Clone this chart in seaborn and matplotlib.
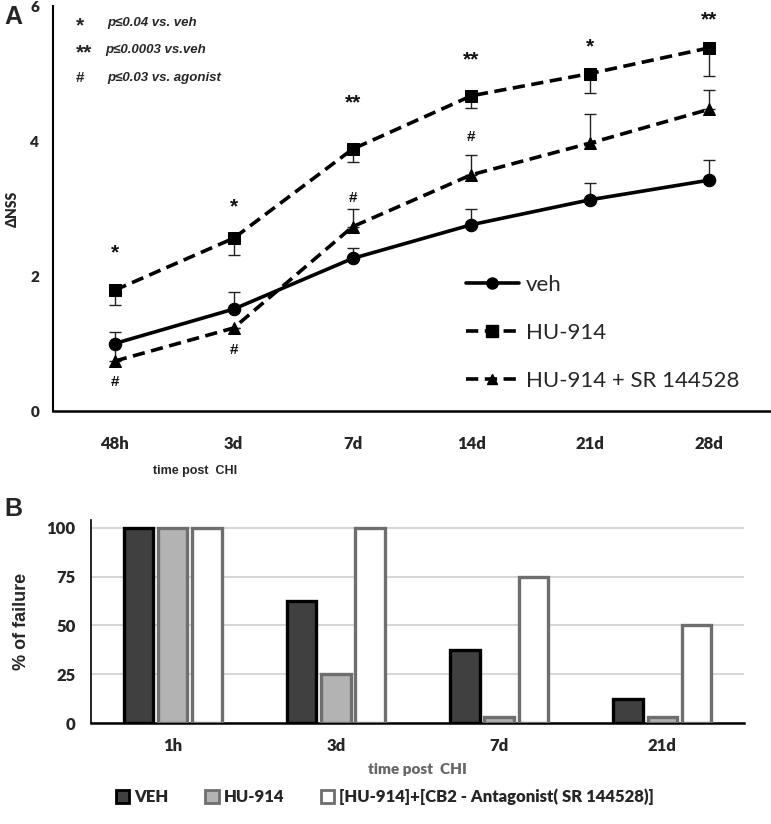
import numpy as np
import pandas as pd
import matplotlib
matplotlib.use("Agg")
import matplotlib.pyplot as plt
from matplotlib.lines import Line2D
from matplotlib.patches import Patch
import seaborn as sns

# ---------------- data: panel A ----------------
time_a = ["48h", "3d", "7d", "14d", "21d", "28d"]
veh = [1.0, 1.51, 2.26, 2.76, 3.13, 3.42]
veh_err = [0.17, 0.26, 0.15, 0.23, 0.25, 0.30]
hu914 = [1.79, 2.56, 3.88, 4.67, 5.0, 5.38]
hu914_err = [0.22, 0.25, 0.19, 0.18, 0.29, 0.42]
hu_sr = [0.74, 1.23, 2.73, 3.5, 3.97, 4.47]
hu_sr_err = [0.25, 0.0, 0.26, 0.29, 0.43, 0.29]
series_names = ["veh", "HU-914", "HU-914 + SR 144528"]

# significance marks: (category, y, text)
sig_cat = ["48h", "3d", "7d", "14d", "21d", "28d", "48h", "3d", "7d", "14d"]
sig_y = [2.34, 3.02, 4.56, 5.2, 5.4, 5.8, 0.43, 0.9, 3.15, 4.06]
sig_txt = ["*", "*", "**", "**", "*", "**", "#", "#", "#", "#"]

# ---------------- data: panel B ----------------
time_b = ["1h", "3d", "7d", "21d"]
groups_b = ["VEH", "HU-914", "[HU-914]+[CB2 - Antagonist( SR 144528)]"]
fail_veh = [100, 62.5, 37.5, 12.5]
fail_hu = [100, 25, 3, 3]
fail_sr = [100, 100, 75, 50]

sns.set_style("white")
plt.rcParams["font.family"] = ["Lato", "DejaVu Sans"]
NARROW = ["Lato", "DejaVu Sans"]
ARIAL = ["Liberation Sans", "DejaVu Sans"]

fig = plt.figure(figsize=(7.71, 8.24), dpi=100)

# ================= Panel A =================
axA = fig.add_axes([53 / 771, 1 - 411 / 824, 1 - 53 / 771, (411 - 6) / 824])
dash = (0, (3.4, 1.8))
styles = [("-", "o", 9), (dash, "s", 9), (dash, "^", 8)]
vals = [veh, hu914, hu_sr]
errs = [veh_err, hu914_err, hu_sr_err]
err_dir = ["up", "down", "up"]

for name, v, e, d, (ls, mk, ms) in zip(series_names, vals, errs, err_dir, styles):
    e = np.array(e)
    z = np.zeros_like(e)
    yerr = [z, e] if d == "up" else [e, z]
    axA.errorbar(time_a, v, yerr=yerr, fmt="none", ecolor="#222222",
                 elinewidth=1.0, capsize=4, capthick=1.0, zorder=2)
    sns.lineplot(x=time_a, y=v, ax=axA, color="black", linestyle=ls, lw=2.6,
                 marker=mk, markersize=ms, markeredgecolor="black",
                 sort=False, zorder=3, legend=False)

for c, y, t in zip(sig_cat, sig_y, sig_txt):
    axA.text(time_a.index(c), y, t, ha="center", va="center",
             fontsize=15 if "*" in t else 11, fontweight="bold",
             family=ARIAL, color="#111111")

axA.set_xlim(-0.52, 5.52)
axA.set_ylim(0, 6)
axA.set_yticks([0, 2, 4, 6])
axA.set_yticklabels(["0", "2", "4", "6"], fontsize=11, fontweight="heavy", family=NARROW)
axA.set_xticks(range(len(time_a)))
axA.set_xticklabels(time_a, fontsize=12, fontweight="heavy", family=NARROW)
axA.tick_params(axis="x", length=0, pad=18)
axA.tick_params(axis="y", length=5, width=1.2, direction="out", pad=5)
for s in ["top", "right"]:
    axA.spines[s].set_visible(False)
axA.spines["left"].set_linewidth(1.5)
axA.spines["bottom"].set_linewidth(1.8)
axA.spines["left"].set_color("black")
axA.spines["bottom"].set_color("black")
axA.set_xlabel("")
axA.set_ylabel("ΔNSS", fontsize=10, fontweight="heavy", family=NARROW, labelpad=8)

fig.text(195 / 771, 1 - 471 / 824, "time post  CHI", ha="center", va="center",
         fontsize=9, fontweight="bold", family=ARIAL)

# legend A
hA = [Line2D([0], [0], color="black", lw=2.6, linestyle=ls, marker=mk, markersize=ms - 1)
      for (ls, mk, ms) in styles]
axA.legend(hA, series_names, loc="upper left", bbox_to_anchor=(0.547, 0.385),
           frameon=False, fontsize=16, handlelength=2.4, labelspacing=1.25,
           handletextpad=0.3)

# p-value key
key_sym = ["*", "**", "#"]
key_txt = ["p≤0.04 vs. veh", "p≤0.0003 vs.veh", "p≤0.03 vs. agonist"]
key_y = [23, 50, 78]
key_sx = [80, 84, 80]
key_tx = [107, 105, 107]
for s, t, y, sx, tx in zip(key_sym, key_txt, key_y, key_sx, key_tx):
    fig.text(sx / 771, 1 - (y + (3 if "*" in s else 0)) / 824, s, ha="center", va="center",
             fontsize=15 if "*" in s else 11, fontweight="bold", family=ARIAL)
    fig.text(tx / 771, 1 - y / 824, t, ha="left", va="center", fontsize=9.5,
             fontweight="bold", fontstyle="italic", family=ARIAL)

fig.text(4 / 771, 1 - 17 / 824, "A", ha="left", va="center", fontsize=18,
         fontweight="bold", family=ARIAL)
fig.text(4 / 771, 1 - 509 / 824, "B", ha="left", va="center", fontsize=18,
         fontweight="bold", family=ARIAL)

# ================= Panel B =================
axB = fig.add_axes([91 / 771, 1 - 723 / 824, (744 - 91) / 771, 203 / 824])
dfB = pd.DataFrame({
    "time": time_b * 3,
    "pct": fail_veh + fail_hu + fail_sr,
    "group": [groups_b[0]] * 4 + [groups_b[1]] * 4 + [groups_b[2]] * 4,
})
fills = ["#404040", "#b3b3b3", "#ffffff"]
edges = ["#000000", "#6e6e6e", "#6e6e6e"]
sns.barplot(data=dfB, x="time", y="pct", hue="group", hue_order=groups_b,
            order=time_b, palette=fills, width=0.63, gap=0.14, ax=axB,
            legend=False, saturation=1, linewidth=2.4, zorder=3)
for cont, ec in zip(axB.containers, edges):
    for p in cont:
        p.set_edgecolor(ec)
        p.set_linewidth(2.4)
        p.set_zorder(3)

axB.set_xlim(-0.5, 3.5)
axB.set_ylim(0, 104)
axB.set_yticks([0, 25, 50, 75, 100])
axB.set_yticklabels(["0", "25", "50", "75", "100"], fontsize=12, fontweight="heavy",
                    family=NARROW)
axB.yaxis.grid(True, color="#d0d0d0", lw=1.2, zorder=0)
axB.set_axisbelow(True)
axB.set_xticks(range(4))
axB.set_xticklabels(time_b, fontsize=12, fontweight="heavy", family=NARROW)
axB.set_xticks([-0.5, 0.5, 1.5, 2.5, 3.5], minor=True)
axB.tick_params(axis="x", which="major", length=0, pad=11)
axB.tick_params(axis="x", which="minor", length=5, width=1.2, direction="out")
axB.tick_params(axis="y", length=5, width=1.0, direction="out", pad=6)
for s in ["top", "right"]:
    axB.spines[s].set_visible(False)
axB.spines["bottom"].set_linewidth(1.8)
axB.spines["left"].set_linewidth(1.2)
axB.spines["left"].set_color("black")
axB.spines["bottom"].set_color("black")
axB.set_xlabel("time post  CHI", fontsize=11, fontweight="heavy", color="#666666",
               family=NARROW, labelpad=6)
axB.set_ylabel("% of failure", fontsize=13, fontweight="bold", family=ARIAL, labelpad=12)

hB = [Patch(facecolor=f, edgecolor=e, linewidth=2.0) for f, e in zip(fills, edges)]
fig.legend(hB, groups_b, loc="center", bbox_to_anchor=(385 / 771, 1 - 797 / 824),
           ncol=3, frameon=False, prop={"family": NARROW, "weight": "heavy", "size": 12},
           handlelength=0.8, handleheight=0.8, handletextpad=0.3, columnspacing=2.2)

fig.savefig("out.png", dpi=100)
